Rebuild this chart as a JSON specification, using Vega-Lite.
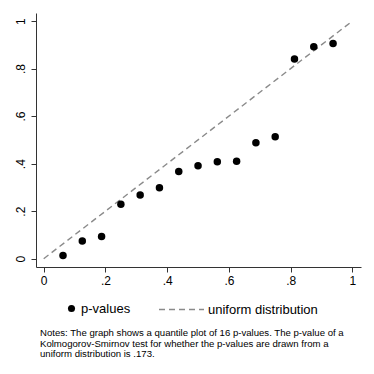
{
  "$schema": "https://vega.github.io/schema/vega-lite/v6.json",
  "width": 325,
  "height": 254,
  "autosize": "none",
  "padding": {"left": 36, "top": 13, "right": 13, "bottom": 107},
  "background": "white",
  "config": {
    "view": {"stroke": null},
    "font": "Liberation Sans",
    "axis": {"grid": false, "domainColor": "#333", "tickColor": "#333", "labelColor": "#000", "labelFont": "Liberation Sans", "labelFontSize": 12, "tickSize": 5, "domainWidth": 1, "tickWidth": 1},
    "legend": {"labelFont": "Liberation Sans", "labelFontSize": 13, "labelColor": "#000"}
  },
  "title": {
    "text": ["Notes: The graph shows a quantile plot of 16 p-values. The p-value of a", "Kolmogorov-Smirnov test for whether the p-values are drawn from a", "uniform distribution is .173."],
    "orient": "bottom", "anchor": "start", "frame": "group", "dx": 4, "offset": 11,
    "fontSize": 9.6, "fontWeight": "normal", "font": "Liberation Sans", "color": "#000", "lineHeight": 10.5
  },
  "datasets": {
    "pts": [
      {"q": 0.0625, "p": 0.013, "series": "p-values"},
      {"q": 0.125, "p": 0.074, "series": "p-values"},
      {"q": 0.1875, "p": 0.093, "series": "p-values"},
      {"q": 0.25, "p": 0.229, "series": "p-values"},
      {"q": 0.3125, "p": 0.268, "series": "p-values"},
      {"q": 0.375, "p": 0.299, "series": "p-values"},
      {"q": 0.4375, "p": 0.367, "series": "p-values"},
      {"q": 0.5, "p": 0.391, "series": "p-values"},
      {"q": 0.5625, "p": 0.408, "series": "p-values"},
      {"q": 0.625, "p": 0.410, "series": "p-values"},
      {"q": 0.6875, "p": 0.488, "series": "p-values"},
      {"q": 0.75, "p": 0.513, "series": "p-values"},
      {"q": 0.8125, "p": 0.840, "series": "p-values"},
      {"q": 0.875, "p": 0.892, "series": "p-values"},
      {"q": 0.9375, "p": 0.906, "series": "p-values"}
    ],
    "line": [
      {"q": 0, "p": 0, "ref": "uniform distribution"},
      {"q": 1, "p": 1, "ref": "uniform distribution"}
    ]
  },
  "layer": [
    {
      "data": {"name": "line"},
      "mark": {"type": "line", "color": "#8a8a8a", "strokeWidth": 1.4},
      "encoding": {
        "x": {"field": "q", "type": "quantitative", "scale": {"domain": [-0.025, 1.028], "nice": false, "zero": false},
          "axis": {"title": null, "values": [0, 0.2, 0.4, 0.6, 0.8, 1], "labelExpr": "datum.value == 0 ? '0' : datum.value == 1 ? '1' : replace(format(datum.value, '.1f'), '0.', '.')", "labelPadding": 3}},
        "y": {"field": "p", "type": "quantitative", "scale": {"domain": [-0.035, 1.034], "nice": false, "zero": false},
          "axis": {"title": null, "values": [0, 0.2, 0.4, 0.6, 0.8, 1], "labelAngle": -90, "labelAlign": "center", "labelBaseline": "bottom", "labelPadding": 4, "labelExpr": "datum.value == 0 ? '0' : datum.value == 1 ? '1' : replace(format(datum.value, '.1f'), '0.', '.')"}},
        "strokeDash": {"field": "ref", "type": "nominal", "scale": {"range": [[6, 4]]},
          "legend": {"title": null, "orient": "none", "legendX": 122, "legendY": 273, "symbolType": "stroke", "symbolSize": 2025, "symbolStrokeColor": "#8a8a8a", "symbolStrokeWidth": 1.4, "labelOffset": 3}}
      }
    },
    {
      "data": {"name": "pts"},
      "mark": {"type": "point", "filled": true, "color": "#000", "size": 56, "opacity": 1},
      "encoding": {
        "x": {"field": "q", "type": "quantitative"},
        "y": {"field": "p", "type": "quantitative"},
        "shape": {"field": "series", "type": "nominal", "scale": {"range": ["circle"]},
          "legend": {"title": null, "orient": "none", "legendX": 29, "legendY": 289, "symbolFillColor": "#000", "symbolStrokeColor": "#000", "symbolSize": 50, "symbolOpacity": 1, "labelOffset": 3}}
      }
    }
  ]
}
